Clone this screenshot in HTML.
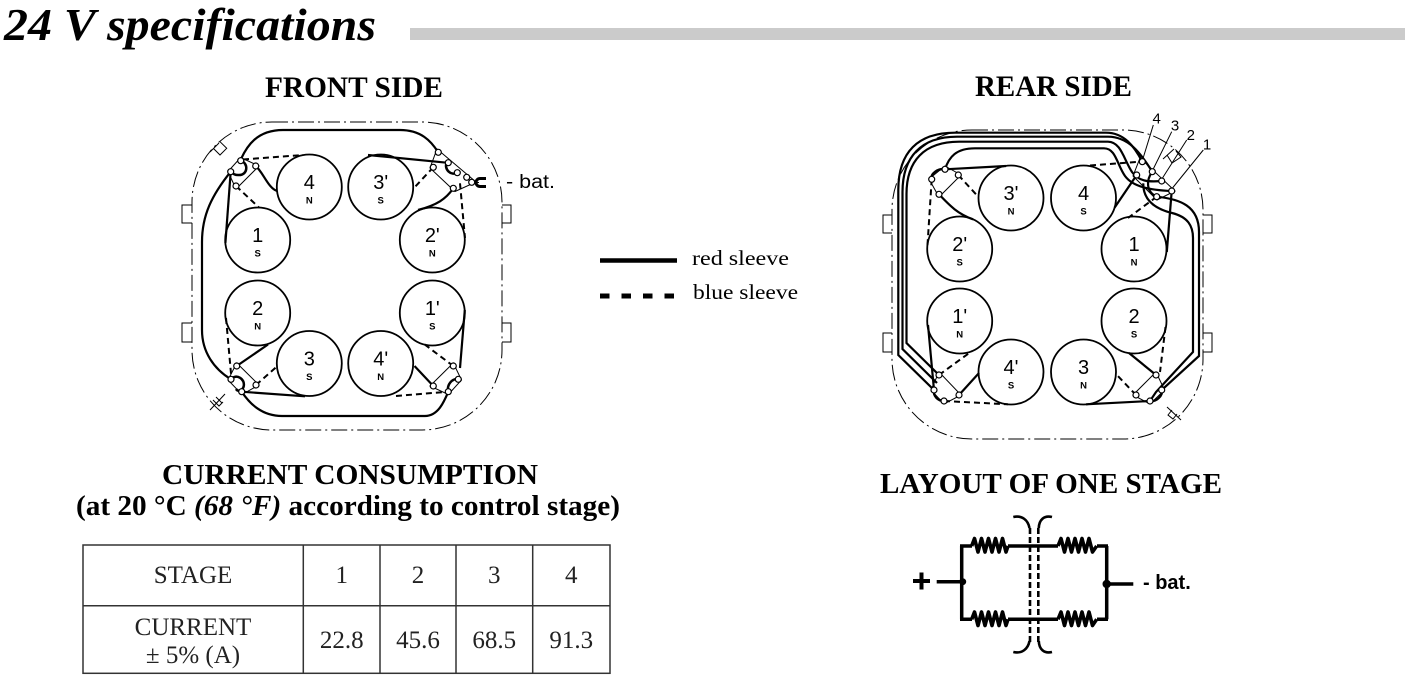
<!DOCTYPE html>
<html><head><meta charset="utf-8">
<style>
html,body{margin:0;padding:0;background:#fff;}
svg{display:block;}
</style></head>
<body>
<svg width="1408" height="683" viewBox="0 0 1408 683" xmlns="http://www.w3.org/2000/svg">
<rect width="1408" height="683" fill="#fff"/>

<!-- Title -->
<text x="4" y="40" font-family="Liberation Serif, serif" font-weight="bold" font-style="italic" font-size="46" textLength="372" lengthAdjust="spacingAndGlyphs">24 V specifications</text>
<rect x="410" y="28" width="995" height="12" fill="#cbcbcb"/>

<!-- Headers -->
<g font-family="Liberation Serif, serif" font-weight="bold" font-size="30">
<text x="265" y="97" textLength="178" lengthAdjust="spacingAndGlyphs">FRONT SIDE</text>
<text x="975" y="96" textLength="157" lengthAdjust="spacingAndGlyphs">REAR SIDE</text>
<text x="162" y="484" textLength="376" lengthAdjust="spacingAndGlyphs" font-size="29">CURRENT CONSUMPTION</text>
<text x="76" y="515" textLength="544" lengthAdjust="spacingAndGlyphs" font-size="28">(at 20 °C <tspan font-style="italic">(68 °F)</tspan> according to control stage)</text>
<text x="880" y="493" textLength="342" lengthAdjust="spacingAndGlyphs" font-size="28">LAYOUT OF ONE STAGE</text>
</g>

<!-- Legend -->
<line x1="600" y1="260.5" x2="677" y2="260.5" stroke="#000" stroke-width="4.5"/>
<line x1="600" y1="296" x2="677" y2="296" stroke="#000" stroke-width="5" stroke-dasharray="9.5,12"/>
<g font-family="Liberation Serif, serif" font-size="21">
<text x="692" y="265" textLength="97" lengthAdjust="spacingAndGlyphs">red sleeve</text>
<text x="693" y="299" textLength="105" lengthAdjust="spacingAndGlyphs">blue sleeve</text>
</g>

<!-- ================= FRONT SIDE ================= -->
<g fill="none" stroke="#000">
  <rect x="192" y="122" width="310" height="308" rx="80" ry="80" stroke-width="1" stroke-dasharray="16,4,2,4"/>
  <path d="M192,205 H182 V223 H192 M192,323 H182 V342 H192 M502,205 H511 V223 H502 M502,323 H511 V342 H502" stroke-width="1"/>
  <path d="M210,152 L219,143 M213.5,148.5 L220,155 L226.7,148.3 L220,141.7" stroke-width="1"/>
  <path d="M210,410 L225,394 M213,400 L219,406 L223,402 M216,397 L222,403" stroke-width="1"/>

  <g stroke-width="1.8">
    <circle cx="309.3" cy="187" r="32.5"/>
    <circle cx="380.7" cy="187" r="32.5"/>
    <circle cx="257.7" cy="240" r="32.5"/>
    <circle cx="432.3" cy="240" r="32.5"/>
    <circle cx="257.7" cy="313" r="32.5"/>
    <circle cx="432.3" cy="313" r="32.5"/>
    <circle cx="309.3" cy="363.5" r="32.5"/>
    <circle cx="380.7" cy="363.5" r="32.5"/>
  </g>

  <g stroke-width="2.2">
    <path d="M241,159 C247,146 257,130 283,130 L400,130 C421,130 431,141 438,152"/>
    <path d="M230.7,171.7 C212,195 202,215 202,242 L202,330 C202,352 214,369 231,379.3"/>
    <path d="M241.7,391.7 C250,404 262,416 282,416 L425,416 C438,416 444,402 448.3,391.7"/>
    <path d="M255.7,166 C263,172 268,188 277,191"/>
    <path d="M230.7,171.7 L225.4,243"/>
    <path d="M368,155 L446.7,162.7"/>
    <path d="M453.3,188.3 C446,199 437,205 418,210"/>
    <path d="M460,368 L464.8,310"/>
    <path d="M433.3,386 L414.5,366"/>
    <path d="M236.7,366 L268,344.5"/>
    <path d="M241.7,391.7 L305,396.3"/>
  </g>
  <g stroke-width="2" stroke-dasharray="6,4">
    <path d="M243,159.5 L303,155"/>
    <path d="M236,186 L259,207.5"/>
    <path d="M433.3,167.3 L413,189"/>
    <path d="M460,183.3 L465,238"/>
    <path d="M226,318 L231.5,379"/>
    <path d="M256,385 L277.5,366"/>
    <path d="M396,396 L448.3,391.7"/>
    <path d="M453.3,366 L424,344"/>
  </g>
  <g stroke-width="1">
    <path d="M240.7,157.5 L259,166 L236,189 L228,171.5 Z"/>
    <path d="M437,149 L476,182 L455,191.5 L430,168 Z"/>
    <path d="M236.7,363 L259,385 L242,394.5 L228,380 Z"/>
    <path d="M453.3,363 L461.5,380 L448.3,394.5 L430,386 Z"/>
    <path d="M471.7,182.3 L479,182.5"/>
  </g>
  <g stroke-width="2.5">
    <path d="M240.7,160.7 C249,163 248,176 238,175 C234,175 232,173 230.7,171.7"/>
    <path d="M446.7,162 C444,170 451,176 457.3,172.7"/>
    <path d="M231,379.3 C236,373 246,379 243.5,387 C242,391 238,392 236,389"/>
    <path d="M458.3,379.3 C452,378 446.5,385 448.3,391.7"/>
    <path d="M486,178.5 L480,178.5 A4,4 0 0 0 480,186.5 L486,186.5" stroke-width="3"/>
  </g>
  <g fill="#fff" stroke-width="1.2">
    <circle cx="240.7" cy="160.7" r="3"/><circle cx="230.7" cy="171.7" r="3"/><circle cx="255.7" cy="166" r="3"/><circle cx="236" cy="186" r="3"/>
    <circle cx="438.3" cy="152.3" r="3"/><circle cx="433.3" cy="167.3" r="3"/><circle cx="448.3" cy="162.7" r="3"/><circle cx="457.3" cy="172.7" r="3"/><circle cx="466.7" cy="177.3" r="3"/><circle cx="453.3" cy="188.3" r="3"/><circle cx="471.7" cy="182.3" r="3"/>
    <circle cx="236.7" cy="366" r="3"/><circle cx="231" cy="379.3" r="3"/><circle cx="241.7" cy="391.7" r="3"/><circle cx="256" cy="385" r="3"/>
    <circle cx="453.3" cy="366" r="3"/><circle cx="458.3" cy="379.3" r="3"/><circle cx="448.3" cy="391.7" r="3"/><circle cx="433.3" cy="386" r="3"/>
  </g>
</g>
<g font-family="Liberation Sans, sans-serif" text-anchor="middle">
  <g font-size="20">
    <text x="309.3" y="189">4</text><text x="380.7" y="189">3'</text>
    <text x="257.7" y="242">1</text><text x="432.3" y="242">2'</text>
    <text x="257.7" y="315">2</text><text x="432.3" y="315">1'</text>
    <text x="309.3" y="365.5">3</text><text x="380.7" y="365.5">4'</text>
  </g>
  <g font-size="9.5" font-weight="bold">
    <text x="309.3" y="203.5">N</text><text x="380.7" y="203.5">S</text>
    <text x="257.7" y="256.5">S</text><text x="432.3" y="256.5">N</text>
    <text x="257.7" y="329.5">N</text><text x="432.3" y="329.5">S</text>
    <text x="309.3" y="380">S</text><text x="380.7" y="380">N</text>
  </g>
</g>
<text x="506" y="188" font-family="Liberation Sans, sans-serif" font-size="19" textLength="49" lengthAdjust="spacingAndGlyphs">- bat.</text>

<!-- ================= REAR SIDE ================= -->
<g fill="none" stroke="#000">
  <rect x="892" y="130" width="311" height="309" rx="80" ry="80" stroke-width="1" stroke-dasharray="16,4,2,4"/>
  <path d="M892,215 H883 V233 H892 M892,333 H883 V352 H892 M1203,215 H1212 V233 H1203 M1203,333 H1212 V352 H1203" stroke-width="1"/>
  <path d="M1163,159 L1174,149 M1167,155 L1172,163 L1181,157 L1176,151" stroke-width="1"/>
  <path d="M1167,407 L1181,420 M1172,410 L1168,415 L1173,419 L1177,414" stroke-width="1"/>

  <g stroke-width="1.8">
    <circle cx="1011" cy="198" r="32.5"/>
    <circle cx="1083.5" cy="198" r="32.5"/>
    <circle cx="959.7" cy="249" r="32.5"/>
    <circle cx="1134" cy="249" r="32.5"/>
    <circle cx="959.7" cy="321" r="32.5"/>
    <circle cx="1134" cy="321" r="32.5"/>
    <circle cx="1011" cy="372" r="32.5"/>
    <circle cx="1083.5" cy="372" r="32.5"/>
  </g>

  <g stroke-width="2.2">
    <path d="M934,390 L898.3,355 L898.3,190 C898.3,152 918,132.7 955,132.7 L1106,132.7 C1124,132.7 1134,146 1142.3,161.7"/>
    <path d="M937,383 L902.5,349 L902.5,192 C902.5,157 921,136.7 957,136.7 L1108,136.7 C1128,136.7 1140,152 1152.3,171.7"/>
    <path d="M939,375 L906.5,343 L906.5,194 C906.5,161 924,141.7 959,141.7 L1108,141.7 C1121,141.7 1124,160 1132,172 C1139,182 1150,182 1161.7,181"/>
    <path d="M945,169.3 C949,157 956,148.3 975,148.3 L1104,148.3 C1116,148.3 1117,165 1125,176 C1133,187 1150,190 1171.7,191"/>
    <path d="M1156.7,196.7 C1180,199 1199,206 1199,232 L1199,356 L1161.7,390"/>
    <path d="M1143.3,183.3 C1143,198 1152,208 1172,213 C1188,217 1193,226 1193,238 L1193,352 L1156,392 L1150,401"/>
    <path d="M1136.7,175 L1114.5,207.7"/>
    <path d="M1171.7,191 L1166.8,252"/>
    <path d="M1152.3,171.7 C1146,180 1146,192 1156.7,196.7"/>
    <path d="M945,169.3 L1006,166"/>
    <path d="M939,194.3 C950,206 958,214 973,219.3"/>
    <path d="M934,390 L928,325"/>
    <path d="M959,395 L979,373"/>
    <path d="M1156,375 L1129,353"/>
    <path d="M1150,401 L1086,404.3"/>
  </g>
  <g stroke-width="2" stroke-dasharray="6,4">
    <path d="M1090,165.5 L1140,161.7"/>
    <path d="M1156.7,196.7 L1128,218"/>
    <path d="M958.3,175 L978.5,197"/>
    <path d="M931.7,179.3 L927.5,245"/>
    <path d="M939,375 L972,351"/>
    <path d="M944,401 L1008,404.3"/>
    <path d="M1165.5,327 L1160,372"/>
    <path d="M1136,395 L1116,374"/>
  </g>
  <g stroke-width="1">
    <path d="M945,166 L961,175 L939,197 L929,179 Z"/>
    <path d="M939,372 L961,395 L944,404 L931,390 Z"/>
    <path d="M1156,372 L1164.5,390 L1150,404 L1133,395 Z"/>
    <path d="M1140,158 L1175,191 L1157,200 L1133,176 Z"/>
    <path d="M1153.3,125 L1143,158.5 M1171.7,131.7 L1153.5,168.5 M1186.7,140 L1162.5,178 M1203.3,150 L1172.5,188"/>
  </g>
  <g stroke-width="2.5">
    <path d="M945,169.3 C938,168 930,174 931.7,179.3"/>
    <path d="M934,390 C933,396 938,401 944,401"/>
    <path d="M1161.7,390 C1163,396 1156,402 1150,401"/>
  </g>
  <g fill="#fff" stroke-width="1.2">
    <circle cx="945" cy="169.3" r="3"/><circle cx="931.7" cy="179.3" r="3"/><circle cx="958.3" cy="175" r="3"/><circle cx="939" cy="194.3" r="3"/>
    <circle cx="939" cy="375" r="3"/><circle cx="934" cy="390" r="3"/><circle cx="944" cy="401" r="3"/><circle cx="959" cy="395" r="3"/>
    <circle cx="1156" cy="375" r="3"/><circle cx="1161.7" cy="390" r="3"/><circle cx="1150" cy="401" r="3"/><circle cx="1136" cy="395" r="3"/>
    <circle cx="1142.3" cy="161.7" r="3"/><circle cx="1152.3" cy="171.7" r="3"/><circle cx="1136.7" cy="175" r="3"/><circle cx="1161.7" cy="181" r="3"/><circle cx="1171.7" cy="191" r="3"/><circle cx="1156.7" cy="196.7" r="3"/>
  </g>
</g>
<g font-family="Liberation Sans, sans-serif" text-anchor="middle">
  <g font-size="20">
    <text x="1011" y="200">3'</text><text x="1083.5" y="200">4</text>
    <text x="959.7" y="251">2'</text><text x="1134" y="251">1</text>
    <text x="959.7" y="323">1'</text><text x="1134" y="323">2</text>
    <text x="1011" y="374">4'</text><text x="1083.5" y="374">3</text>
  </g>
  <g font-size="9.5" font-weight="bold">
    <text x="1011" y="214.5">N</text><text x="1083.5" y="214.5">S</text>
    <text x="959.7" y="265.5">S</text><text x="1134" y="265.5">N</text>
    <text x="959.7" y="337.5">N</text><text x="1134" y="337.5">S</text>
    <text x="1011" y="388.5">S</text><text x="1083.5" y="388.5">N</text>
  </g>
  <g font-size="15">
    <text x="1156.7" y="123.3">4</text>
    <text x="1175" y="130.7">3</text>
    <text x="1190.8" y="140">2</text>
    <text x="1207" y="149.3">1</text>
  </g>
</g>

<!-- ================= TABLE ================= -->
<g fill="none" stroke="#333" stroke-width="1.5">
  <rect x="83" y="545" width="527" height="128.3"/>
  <line x1="83" y1="605.7" x2="610" y2="605.7"/>
  <line x1="303.3" y1="545" x2="303.3" y2="673.3"/>
  <line x1="380" y1="545" x2="380" y2="673.3"/>
  <line x1="456" y1="545" x2="456" y2="673.3"/>
  <line x1="532.7" y1="545" x2="532.7" y2="673.3"/>
</g>
<g font-family="Liberation Serif, serif" font-size="25" fill="#222" text-anchor="middle">
  <text x="193" y="583">STAGE</text>
  <text x="341.7" y="583">1</text>
  <text x="418" y="583">2</text>
  <text x="494.3" y="583">3</text>
  <text x="571.3" y="583">4</text>
  <text x="193" y="635">CURRENT</text>
  <text x="193" y="663">± 5% (A)</text>
  <text x="341.7" y="648">22.8</text>
  <text x="418" y="648">45.6</text>
  <text x="494.3" y="648">68.5</text>
  <text x="571.3" y="648">91.3</text>
</g>

<!-- ================= LAYOUT OF ONE STAGE ================= -->
<g fill="none" stroke="#000" stroke-width="3.5">
  <path d="M913,581 H930 M921.5,572.5 V589.5" stroke-width="4"/>
  <path d="M936.7,581.7 H961.7"/>
  <path d="M961.7,546 V619.3"/>
  <path d="M1106.7,546 V619.3"/>
  <path d="M1106.7,584 H1133.3"/>
  <path d="M960,546 H972 M1008,546 H1058 M1097,546 H1108"/>
  <path d="M960,619.3 H972 M1008,619.3 H1058 M1097,619.3 H1108"/>
</g>
<g fill="none" stroke="#000" stroke-width="3.6" stroke-linejoin="round">
  <polyline points="971.7,546 974.5,538.5 978,552 981.5,538.5 985,552 988.5,538.5 992,552 995.5,538.5 999,552 1002.5,538.5 1006,552 1008,546"/>
  <polyline points="1058,546 1061,538.5 1064.5,552 1068,538.5 1071.5,552 1075,538.5 1078.5,552 1082,538.5 1085.5,552 1089,538.5 1092.5,552 1096.7,546"/>
  <polyline points="971.7,619.3 974.5,612 978,625.5 981.5,612 985,625.5 988.5,612 992,625.5 995.5,612 999,625.5 1002.5,612 1006,625.5 1008,619.3"/>
  <polyline points="1058,619.3 1061,612 1064.5,625.5 1068,612 1071.5,625.5 1075,612 1078.5,625.5 1082,612 1085.5,625.5 1089,612 1092.5,625.5 1096.7,619.3"/>
</g>
<circle cx="962.7" cy="581.7" r="3.5" fill="#000"/>
<circle cx="1106.7" cy="584" r="4.2" fill="#000"/>
<g fill="none" stroke="#000" stroke-width="2.6">
  <path d="M1030,528 V642 M1038.3,528 V642" stroke-dasharray="6,3"/>
  <path d="M1013.3,517 C1022,515 1028,520 1029.5,528"/>
  <path d="M1052,517 C1044,515 1039,520 1038.8,528"/>
  <path d="M1013.3,652 C1022,654 1028,649 1029.5,641"/>
  <path d="M1052,652 C1044,654 1039,649 1038.8,641"/>
</g>
<text x="1143" y="589" font-family="Liberation Sans, sans-serif" font-weight="bold" font-size="20">- bat.</text>

</svg>
</body>
</html>
